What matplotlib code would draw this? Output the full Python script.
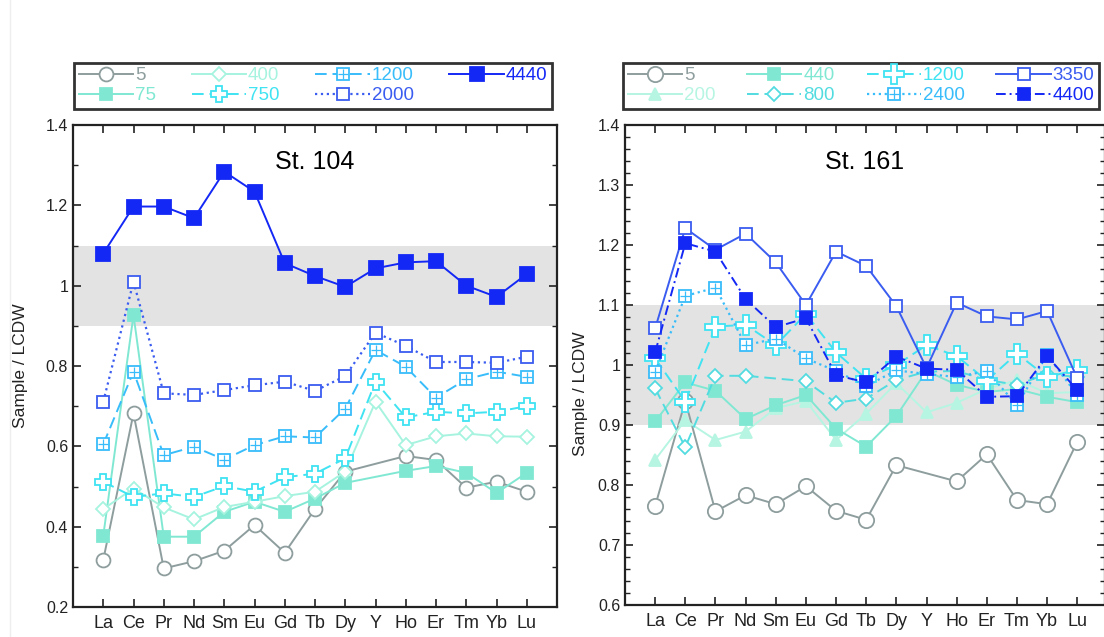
import numpy as np
import matplotlib
matplotlib.use("Agg")
import matplotlib.pyplot as plt
from matplotlib.ticker import MultipleLocator, FuncFormatter
from matplotlib.lines import Line2D

plt.rcParams['font.family'] = ['Liberation Sans', 'DejaVu Sans']

# Elements (x axis)
elements = ["La", "Ce", "Pr", "Nd", "Sm", "Eu", "Gd", "Tb", "Dy", "Y", "Ho", "Er", "Tm", "Yb", "Lu"]
nan = np.nan

# St. 104 (depth in m -> Sample / LCDW)
s104_5    = [0.317, 0.682, 0.296, 0.314, 0.340, 0.404, 0.335, 0.444, 0.537, nan,   0.576, 0.566, 0.497, 0.512, 0.487]
s104_75   = [0.377, 0.927, 0.375, 0.375, 0.437, 0.462, 0.437, 0.470, 0.509, nan,   0.539, 0.551, 0.534, 0.484, 0.534]
s104_400  = [0.444, 0.495, 0.448, 0.418, 0.449, 0.462, 0.476, 0.487, 0.537, 0.711, 0.603, 0.625, 0.632, 0.625, 0.624]
s104_750  = [0.512, 0.474, 0.483, 0.474, 0.501, 0.487, 0.523, 0.532, 0.570, 0.761, 0.672, 0.686, 0.682, 0.686, 0.700]
s104_1200 = [0.605, 0.786, 0.578, 0.599, 0.567, 0.603, 0.625, 0.622, 0.694, 0.840, 0.798, 0.721, 0.767, 0.786, 0.773]
s104_2000 = [0.711, 1.010, 0.732, 0.728, 0.740, 0.752, 0.761, 0.738, 0.775, 0.883, 0.850, 0.810, 0.810, 0.808, 0.823]
s104_4440 = [1.080, 1.197, 1.197, 1.168, 1.284, 1.234, 1.056, 1.024, 0.997, 1.043, 1.058, 1.061, 1.000, 0.972, 1.029]

# St. 161
s161_5    = [0.765, 0.940, 0.756, 0.783, 0.768, 0.798, 0.757, 0.742, 0.833, nan,   0.806, 0.851, 0.775, 0.768, 0.872]
s161_200  = [0.842, 0.908, 0.875, 0.889, 0.928, 0.940, 0.875, 0.919, 0.970, 0.921, 0.937, 0.960, 0.975, 0.953, 0.955]
s161_440  = [0.906, 0.971, 0.957, 0.910, 0.933, 0.950, 0.894, 0.864, 0.915, 0.990, 0.967, 0.955, 0.960, 0.947, 0.938]
s161_800  = [0.961, 0.863, 0.982, 0.982, nan,   0.973, 0.937, 0.944, 0.975, 0.989, 0.990, 0.975, 0.967, 0.985, 0.980]
s161_1200 = [1.011, 0.939, 1.064, 1.067, 1.033, 1.085, 1.021, 0.977, 1.000, 1.033, 1.015, 0.974, 1.019, 0.980, 0.992]
s161_2400 = [0.989, 1.115, 1.129, 1.033, 1.044, 1.011, 0.990, 0.965, 0.991, 0.985, 0.980, 0.990, 0.933, 1.017, 0.950]
s161_3350 = [1.061, 1.228, 1.192, 1.219, 1.171, 1.100, 1.189, 1.165, 1.098, 0.995, 1.104, 1.081, 1.076, 1.090, 0.978]
s161_4400 = [1.021, 1.203, 1.189, 1.110, 1.063, 1.078, 0.983, 0.971, 1.014, 0.994, 0.992, 0.947, 0.948, 1.015, 0.958]

x = np.arange(len(elements))

W = 'white'
GREY = '#8e9d9d'
MINT = '#80e8d2'
PALE = '#a6f3df'
PALE2 = '#b6f5e2'
CYAN = '#3fe3f2'
SKY = '#38bdfa'
BLUE2 = '#3a5cf0'
BLUE = '#1428f5'


def draw(ax, vals, color, ls, marker, ms, mfc, grid=False, lw=1.4, z=2):
    v = np.array(vals, dtype=float)
    m = ~np.isnan(v)
    l, = ax.plot(x[m], v[m], linestyle=ls, color=color, lw=lw, marker=marker,
                 ms=ms, mfc=mfc, mec=color, mew=1.3, zorder=z)
    if grid:
        p, = ax.plot(x[m], v[m], linestyle='none', marker='+', ms=ms * 0.95,
                     mec=color, mew=0.9, zorder=z)
        return (l, p)
    return l


def setup(ax, ylo, yhi, major, minor, xr):
    ax.axhspan(0.9, 1.1, color='#e3e3e3', lw=0, zorder=0)
    ax.set_xlim(-1, xr)
    ax.set_ylim(ylo, yhi)
    ax.set_xticks(x)
    ax.set_xticklabels(elements)
    ax.yaxis.set_major_locator(MultipleLocator(major))
    ax.yaxis.set_minor_locator(MultipleLocator(minor))
    ax.yaxis.set_major_formatter(FuncFormatter(lambda v, p: f"{v:g}"))
    ax.tick_params(axis='both', which='both', direction='in', top=True, right=True,
                   colors='#222222', labelcolor='#222222')
    ax.tick_params(axis='both', which='major', length=6, width=1.2, labelsize=11.5)
    ax.tick_params(axis='x', which='major', labelsize=13, pad=6)
    ax.tick_params(axis='both', which='minor', length=3.5, width=1.0)
    for s in ax.spines.values():
        s.set_linewidth(1.6)
        s.set_color('#222222')
    ax.set_ylabel("Sample / LCDW", fontsize=12.5, color='#222222')


def legend(handles, labels, colors, box):
    leg = fig.legend(handles, labels, ncol=4, loc='lower left', mode='expand',
                     bbox_to_anchor=box, fontsize=13.5, handlelength=2.9, numpoints=1,
                     fancybox=False, frameon=True, edgecolor='black', borderpad=0.25,
                     labelspacing=0.15, handletextpad=0.1, borderaxespad=0)
    leg.get_frame().set_linewidth(2.0)
    for t, c in zip(leg.get_texts(), colors):
        t.set_color(c)
    return leg


fig = plt.figure(figsize=(11.04, 6.37), dpi=100)

# ---------------- St. 104 ----------------
ax1 = fig.add_axes([73 / 1104, 1 - 607 / 637, 484 / 1104, 482 / 637])
setup(ax1, 0.2, 1.4, 0.2, 0.1, 15)
h = []
h.append(draw(ax1, s104_5, GREY, '-', 'o', 10, W))
h.append(draw(ax1, s104_75, MINT, '-', 's', 8, MINT))
h.append(draw(ax1, s104_400, PALE, '-', 'D', 7, W))
h.append(draw(ax1, s104_750, CYAN, (0, (6, 3)), 'P', 12, W))
h.append(draw(ax1, s104_1200, SKY, (0, (6, 3)), 's', 8, W, grid=True))
h.append(draw(ax1, s104_2000, BLUE2, ':', 's', 8, W, lw=1.6))
h.append(draw(ax1, s104_4440, BLUE, '-', 's', 10, BLUE, z=3))
labels1 = ["5", "75", "400", "750", "1200", "2000", "4440"]
cols1 = [GREY, MINT, PALE, CYAN, SKY, BLUE2, BLUE]
ax1.text(0.5, 0.923, "St. 104", transform=ax1.transAxes, ha='center', va='center', fontsize=18)
ax1.yaxis.set_label_coords(-0.092, 0.5)
legend(h, labels1, cols1, (74 / 1104, 1 - 109 / 637, 478 / 1104, 54 / 637))

# ---------------- St. 161 ----------------
ax2 = fig.add_axes([625 / 1104, 1 - 605 / 637, 480 / 1104, 480 / 637])
setup(ax2, 0.6, 1.4, 0.1, 0.02, 14.92)
g = []
g.append(draw(ax2, s161_5, GREY, '-', 'o', 11, W))
g.append(draw(ax2, s161_200, PALE2, '-', '^', 9, PALE2))
g.append(draw(ax2, s161_440, MINT, '-', 's', 9, MINT))
g.append(draw(ax2, s161_800, '#52dce0', (0, (6, 3)), 'D', 7, W))
g.append(draw(ax2, s161_1200, CYAN, (0, (6, 3)), 'P', 14, W))
g.append(draw(ax2, s161_2400, SKY, ':', 's', 8, W, grid=True, lw=1.6))
g.append(draw(ax2, s161_3350, BLUE2, '-', 's', 9, W))
g.append(draw(ax2, s161_4400, BLUE, (0, (5, 2, 1, 2)), 's', 9, BLUE, z=3))
labels2 = ["5", "200", "440", "800", "1200", "2400", "3350", "4400"]
cols2 = [GREY, PALE2, MINT, '#52dce0', CYAN, SKY, BLUE2, BLUE]
ax2.text(0.5, 0.923, "St. 161", transform=ax2.transAxes, ha='center', va='center', fontsize=18)
ax2.yaxis.set_label_coords(-0.078, 0.44)
legend(g, labels2, cols2, (623 / 1104, 1 - 109 / 637, 476 / 1104, 56 / 637))

# faint page edge on the left
fig.add_artist(Line2D([10 / 1104, 10 / 1104], [0, 1], color='#eeeeee', lw=1))

fig.savefig("out.png", dpi=100)
